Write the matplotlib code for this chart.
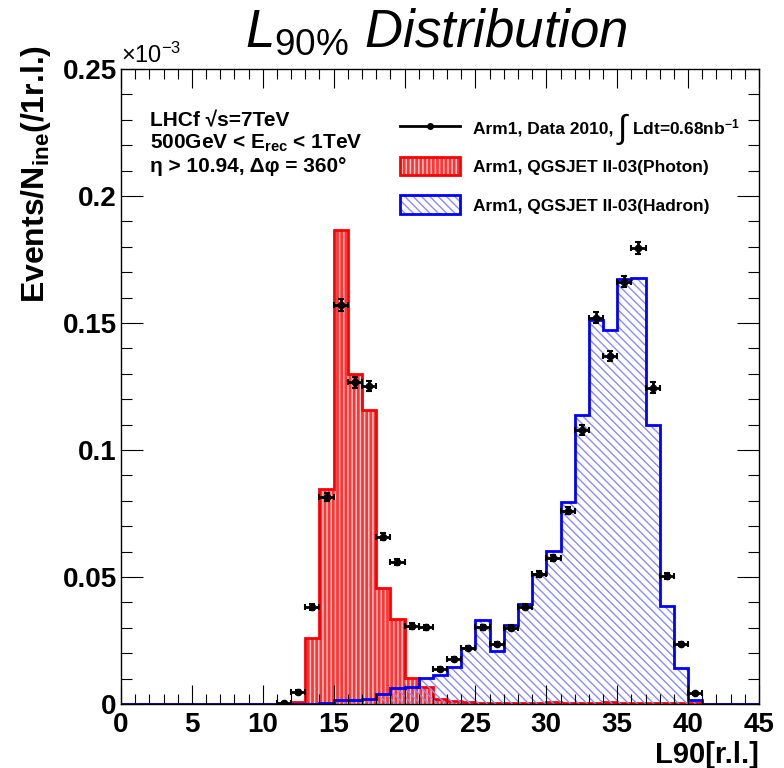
import numpy as np
import matplotlib
matplotlib.use('Agg')
import matplotlib.pyplot as plt
from matplotlib.ticker import MultipleLocator, FuncFormatter
from matplotlib.patches import Patch
from matplotlib.lines import Line2D

plt.rcParams['font.family'] = ['Liberation Sans', 'DejaVu Sans']
plt.rcParams['font.weight'] = 'bold'
plt.rcParams['mathtext.fontset'] = 'custom'
plt.rcParams['mathtext.rm'] = 'Liberation Sans:weight=normal'
plt.rcParams['mathtext.it'] = 'Liberation Sans:style=italic:weight=normal'
plt.rcParams['mathtext.bf'] = 'Liberation Sans:weight=bold'
plt.rcParams['hatch.linewidth'] = 1.0

# L90 bins of 1 r.l. from 0 to 45 (values in units of 1e-3)
bin_edges = np.arange(0, 46)

photon_mc = [0, 0, 0, 0, 0, 0, 0, 0, 0, 0, 0, 0,
             0.0007, 0.026, 0.0845, 0.1866, 0.130, 0.1157, 0.0455, 0.0334,
             0.0101, 0.0068, 0.0018, 0.0010, 0.0008, 0.0005, 0.0002, 0.0002,
             0.0002, 0.0002, 0.0006, 0.0002, 0.0002, 0.0002, 0.0006, 0.0002,
             0.0002, 0.0002, 0.0002, 0.0002, 0.0002, 0, 0, 0, 0]

hadron_mc = [0, 0, 0, 0, 0, 0, 0, 0, 0, 0, 0, 0, 0, 0,
             0.0004, 0.0014, 0.0015, 0.0021, 0.0040, 0.0062, 0.0068, 0.0101,
             0.0113, 0.0147, 0.0222, 0.0331, 0.0209, 0.0311, 0.0394, 0.0512,
             0.0602, 0.0797, 0.1138, 0.1513, 0.1472, 0.1672, 0.1676, 0.1098,
             0.0386, 0.0140, 0.0016, 0, 0, 0, 0]

data_x = np.arange(11.5, 41.0, 1.0)
data_y = [0.0003, 0.0049, 0.0381, 0.0814, 0.1570, 0.1266, 0.1252, 0.0659,
          0.0560, 0.0307, 0.0302, 0.0138, 0.0178, 0.0219, 0.0302, 0.0235,
          0.0300, 0.0383, 0.0512, 0.0576, 0.0761, 0.1079, 0.1521, 0.1370,
          0.1663, 0.1794, 0.1246, 0.0505, 0.0235, 0.0042]
data_err = [0.0004, 0.0008, 0.0012, 0.0016, 0.0024, 0.0020, 0.0020, 0.0014,
            0.0012, 0.0010, 0.0010, 0.0008, 0.0008, 0.0008, 0.0010, 0.0008,
            0.0010, 0.0010, 0.0012, 0.0012, 0.0014, 0.0018, 0.0022, 0.0020,
            0.0022, 0.0024, 0.0020, 0.0012, 0.0008, 0.0006]

labels = ['Arm1, Data 2010,',
          'Arm1, QGSJET II-03(Photon)',
          'Arm1, QGSJET II-03(Hadron)']
lumi_text = r'Ldt=0.68nb$^{\mathbf{-1}}$'

RED_FILL = '#ff3434'
BLUE_HATCH = '#8c8cff'

W, H = 784, 768


def fx(x):
    return x / W


def fy(y):
    return 1 - y / H


fig = plt.figure(figsize=(W / 100, H / 100), dpi=100)
ax = fig.add_axes([fx(121), 64 / H, 638 / W, 635 / H])

# photon MC
ax.stairs(photon_mc, bin_edges, fill=True, facecolor=RED_FILL,
          edgecolor='#ffd0d0', hatch='||||', linewidth=0)
ax.stairs(photon_mc, bin_edges, color='red', linewidth=2)

# hadron MC
ax.stairs(hadron_mc, bin_edges, fill=True, facecolor='none',
          edgecolor=BLUE_HATCH, hatch='\\\\\\\\', linewidth=0)
ax.stairs(hadron_mc, bin_edges, color='blue', linewidth=2)

# data
ax.errorbar(data_x, data_y, xerr=0.5, yerr=data_err, fmt='o', color='black',
            ms=4.5, elinewidth=2, capsize=2, capthick=1.5, zorder=5)

ax.set_xlim(0, 45)
ax.set_ylim(0, 0.25)
ax.xaxis.set_major_locator(MultipleLocator(5))
ax.xaxis.set_minor_locator(MultipleLocator(1))
ax.yaxis.set_major_locator(MultipleLocator(0.05))
ax.yaxis.set_minor_locator(MultipleLocator(0.01))
ax.yaxis.set_major_formatter(FuncFormatter(lambda v, p: '%g' % round(v, 4)))

ax.tick_params(which='both', direction='in', top=True, right=True, width=0.8)
ax.tick_params(axis='x', which='major', length=13.7, labelsize=20, pad=6)
ax.tick_params(axis='x', which='minor', length=7.2)
ax.tick_params(axis='y', which='major', length=15.8, labelsize=20, pad=3)
ax.tick_params(axis='y', which='minor', length=7.9)
for s in ax.spines.values():
    s.set_linewidth(1.0)

# legend
h_data = Line2D([], [], color='black', marker='o', ms=4, lw=2)
h_phot = (Patch(facecolor=RED_FILL, edgecolor='#ffd0d0', hatch='||||', lw=0),
          Patch(facecolor='none', edgecolor='red', lw=2))
h_had = (Patch(facecolor='none', edgecolor=BLUE_HATCH, hatch='\\\\\\\\', lw=0),
         Patch(facecolor='none', edgecolor='blue', lw=2))
leg = ax.legend([h_data, h_phot, h_had], labels, loc='upper left',
                bbox_to_anchor=(fx(400), fy(118)), bbox_transform=fig.transFigure,
                frameon=False, fontsize=12.5, handlelength=3.45, handletextpad=0.75,
                handleheight=1.27, labelspacing=1.16, borderpad=0, borderaxespad=0)

# integral sign and luminosity after the data legend entry
fig.text(fx(622), fy(129), '∫', fontsize=24, fontweight='normal',
         ha='center', va='center')
fig.text(fx(632), fy(127), lumi_text, fontsize=12.5, ha='left', va='center')

# texts
ax_txt = dict(fontsize=15, va='center', ha='left')
fig.text(fx(150), fy(121), 'LHCf √s=7TeV', **ax_txt)
fig.text(fx(150), fy(143), r'500GeV < E$_{\mathbf{rec}}$ < 1TeV', **ax_txt)
fig.text(fx(150), fy(167), 'η > 10.94, Δφ = 360°', **ax_txt)

fig.text(fx(436), fy(32), r'$\mathit{L}_{\mathit{90\%}}$ Distribution',
         fontsize=38, fontstyle='italic', fontweight='normal',
         ha='center', va='center')
fig.text(fx(121), fy(63), r'×10$^{\mathregular{-3}}$', fontsize=17,
         fontweight='normal', ha='left', va='baseline')
fig.text(fx(759), fy(763), 'L90[r.l.]', fontsize=21, ha='right', va='baseline')
fig.text(fx(36), fy(174), r'Events/N$_{\mathbf{ine}}$(/1r.l.)', fontsize=23,
         rotation=90, ha='center', va='center')

fig.savefig('out.png', dpi=100)
